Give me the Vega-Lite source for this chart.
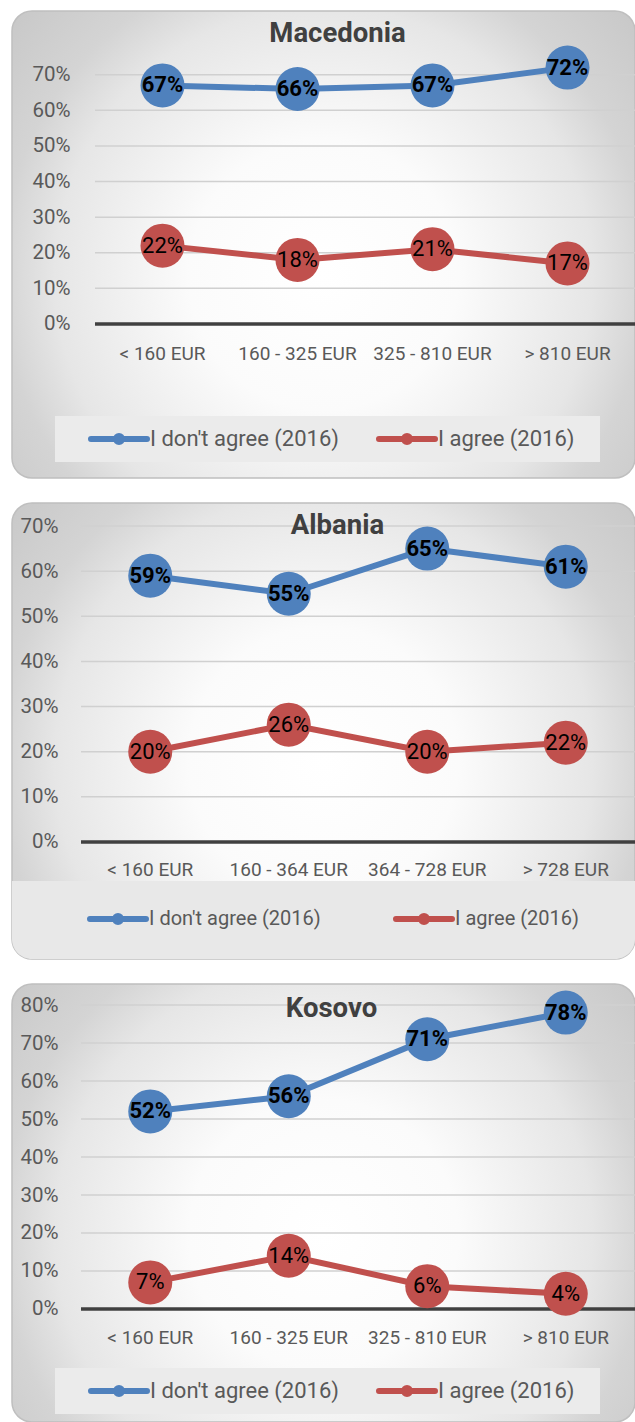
{
  "$schema": "https://vega.github.io/schema/vega-lite/v6.json",
  "padding": {"left": 11, "top": 10, "right": 0, "bottom": 0},
  "bounds": "flush",
  "spacing": 25,
  "datasets": {
    "d": [
      {"country": "Macedonia", "income": "< 160 EUR", "series": "I don't agree (2016)", "value": 0.67},
      {"country": "Macedonia", "income": "160 - 325 EUR", "series": "I don't agree (2016)", "value": 0.66},
      {"country": "Macedonia", "income": "325 - 810 EUR", "series": "I don't agree (2016)", "value": 0.67},
      {"country": "Macedonia", "income": "> 810 EUR", "series": "I don't agree (2016)", "value": 0.72},
      {"country": "Macedonia", "income": "< 160 EUR", "series": "I agree (2016)", "value": 0.22},
      {"country": "Macedonia", "income": "160 - 325 EUR", "series": "I agree (2016)", "value": 0.18},
      {"country": "Macedonia", "income": "325 - 810 EUR", "series": "I agree (2016)", "value": 0.21},
      {"country": "Macedonia", "income": "> 810 EUR", "series": "I agree (2016)", "value": 0.17},
      {"country": "Albania", "income": "< 160 EUR", "series": "I don't agree (2016)", "value": 0.59},
      {"country": "Albania", "income": "160 - 364 EUR", "series": "I don't agree (2016)", "value": 0.55},
      {"country": "Albania", "income": "364 - 728 EUR", "series": "I don't agree (2016)", "value": 0.65},
      {"country": "Albania", "income": "> 728 EUR", "series": "I don't agree (2016)", "value": 0.61},
      {"country": "Albania", "income": "< 160 EUR", "series": "I agree (2016)", "value": 0.20},
      {"country": "Albania", "income": "160 - 364 EUR", "series": "I agree (2016)", "value": 0.26},
      {"country": "Albania", "income": "364 - 728 EUR", "series": "I agree (2016)", "value": 0.20},
      {"country": "Albania", "income": "> 728 EUR", "series": "I agree (2016)", "value": 0.22},
      {"country": "Kosovo", "income": "< 160 EUR", "series": "I don't agree (2016)", "value": 0.52},
      {"country": "Kosovo", "income": "160 - 325 EUR", "series": "I don't agree (2016)", "value": 0.56},
      {"country": "Kosovo", "income": "325 - 810 EUR", "series": "I don't agree (2016)", "value": 0.71},
      {"country": "Kosovo", "income": "> 810 EUR", "series": "I don't agree (2016)", "value": 0.78},
      {"country": "Kosovo", "income": "< 160 EUR", "series": "I agree (2016)", "value": 0.07},
      {"country": "Kosovo", "income": "160 - 325 EUR", "series": "I agree (2016)", "value": 0.14},
      {"country": "Kosovo", "income": "325 - 810 EUR", "series": "I agree (2016)", "value": 0.06},
      {"country": "Kosovo", "income": "> 810 EUR", "series": "I agree (2016)", "value": 0.04}
    ],
    "grid7": [{"v": 0}, {"v": 0.1}, {"v": 0.2}, {"v": 0.3}, {"v": 0.4}, {"v": 0.5}, {"v": 0.6}, {"v": 0.7}],
    "grid8": [{"v": 0}, {"v": 0.1}, {"v": 0.2}, {"v": 0.3}, {"v": 0.4}, {"v": 0.5}, {"v": 0.6}, {"v": 0.7}, {"v": 0.8}]
  },
  "resolve": {"scale": {"color": "independent"}, "legend": {"color": "independent"}},
  "config": {
    "font": "Roboto",
    "view": {
      "fill": {"gradient": "radial", "x1": 0.5, "y1": 0.55, "r1": 0, "x2": 0.5, "y2": 0.55, "r2": 0.72,
        "stops": [{"offset": 0, "color": "#ffffff"}, {"offset": 0.3, "color": "#fbfbfb"}, {"offset": 0.6, "color": "#e6e6e6"}, {"offset": 0.72, "color": "#d4d4d4"}, {"offset": 1, "color": "#c2c2c2"}]},
      "stroke": "#bfbfbf", "strokeWidth": 1.5, "cornerRadius": 20
    },
    "axis": {"grid": false, "domain": false, "ticks": false, "labelFont": "Roboto", "labelColor": "#595959"},
    "legend": {"labelFont": "Roboto", "labelColor": "#595959"},
    "title": {"font": "Roboto", "fontSize": 27.5, "fontWeight": "bold", "color": "#404040"}
  },
  "vconcat": [
    {
      "width": 623, "height": 467,
      "title": {"text": "Macedonia", "frame": "group", "anchor": "middle", "offset": -58, "baseline": "alphabetic", "dx": 14},
      "layer": [
        {
          "data": {"name": "grid7"},
          "mark": {"type": "rule"},
          "encoding": {
            "y": {"field": "v", "type": "quantitative", "scale": {"domain": [-0.4326, 0.879], "nice": false, "zero": false},
              "axis": {"offset": -62, "labelPadding": 4, "values": [0, 0.1, 0.2, 0.3, 0.4, 0.5, 0.6, 0.7], "format": ".0%", "labelFontSize": 20.5, "title": null}},
            "x": {"datum": "< 160 EUR", "type": "nominal", "bandPosition": 0,
              "scale": {"type": "band", "domain": ["< 160 EUR", "160 - 325 EUR", "325 - 810 EUR", "> 810 EUR"], "paddingInner": 0, "paddingOuter": 0.3074, "align": 1},
              "axis": {"offset": -125, "labelPadding": 0, "labelBaseline": "middle", "labelFontSize": 19, "labelAngle": 0, "labelOverlap": false, "title": null}},
            "x2": {"datum": "> 810 EUR", "bandPosition": 1},
            "color": {"condition": {"test": "datum.v === 0", "value": "#404040"}, "value": "#d0d0d0"},
            "strokeWidth": {"condition": {"test": "datum.v === 0", "value": 3.5}, "value": 1.5}
          }
        },
        {
          "data": {"name": "d"},
          "transform": [{"filter": "datum.country === 'Macedonia'"}],
          "mark": {"type": "line", "strokeWidth": 6},
          "encoding": {
            "x": {"field": "income", "type": "nominal", "bandPosition": 0.5, "sort": ["< 160 EUR", "160 - 325 EUR", "325 - 810 EUR", "> 810 EUR"]},
            "y": {"field": "value", "type": "quantitative"},
            "color": {"field": "series", "type": "nominal",
              "scale": {"domain": ["I don't agree (2016)", "I agree (2016)"], "range": ["#4f81bd", "#c0504d"]},
              "legend": {"orient": "none", "legendX": 43, "legendY": 405, "direction": "horizontal",
                "title": " ", "titleOrient": "right", "titlePadding": 16, "titleFontSize": 8,
                "fillColor": "#ebebeb", "padding": 10, "clipHeight": 26,
                "symbolType": "M-1,0L1,0M-0.11,0A0.11,0.11,0,1,1,0.11,0A0.11,0.11,0,1,1,-0.11,0",
                "symbolSize": 3136, "symbolStrokeWidth": 6, "symbolOffset": 23, "labelOffset": 0, "columnPadding": 14,
                "labelFontSize": 22, "labelLimit": 400,
                "encode": {"symbols": {"update": {
                  "fill": {"signal": "datum.value === 'I agree (2016)' ? '#c0504d' : '#4f81bd'"},
                  "stroke": {"signal": "datum.value === 'I agree (2016)' ? '#c0504d' : '#4f81bd'"},
                  "strokeCap": {"value": "round"}, "opacity": {"value": 1}}}}}}
          }
        },
        {
          "data": {"name": "d"},
          "transform": [{"filter": "datum.country === 'Macedonia'"}],
          "mark": {"type": "circle", "size": 1936, "opacity": 1},
          "encoding": {
            "x": {"field": "income", "type": "nominal", "bandPosition": 0.5},
            "y": {"field": "value", "type": "quantitative"},
            "color": {"field": "series", "type": "nominal"}
          }
        },
        {
          "data": {"name": "d"},
          "transform": [{"filter": "datum.country === 'Macedonia' && datum.series !== 'I agree (2016)'"}],
          "mark": {"type": "text", "fontSize": 22, "fontWeight": "bold", "color": "#000000", "baseline": "middle", "align": "center"},
          "encoding": {
            "x": {"field": "income", "type": "nominal", "bandPosition": 0.5},
            "y": {"field": "value", "type": "quantitative"},
            "text": {"field": "value", "type": "quantitative", "format": ".0%"}
          }
        },
        {
          "data": {"name": "d"},
          "transform": [{"filter": "datum.country === 'Macedonia' && datum.series === 'I agree (2016)'"}],
          "mark": {"type": "text", "fontSize": 22, "color": "#000000", "baseline": "middle", "align": "center"},
          "encoding": {
            "x": {"field": "income", "type": "nominal", "bandPosition": 0.5},
            "y": {"field": "value", "type": "quantitative"},
            "text": {"field": "value", "type": "quantitative", "format": ".0%"}
          }
        }
      ]
    },
    {
      "width": 623, "height": 456,
      "title": {"text": "Albania", "frame": "group", "anchor": "middle", "offset": -58, "baseline": "alphabetic", "dx": 14},
      "layer": [
        {
          "data": {"values": [{}]},
          "mark": {"type": "rect", "color": "#e8e8e8", "cornerRadiusBottomLeft": 20, "cornerRadiusBottomRight": 20},
          "encoding": {
            "y": {"datum": -0.0864, "type": "quantitative", "scale": {"domain": [-0.2592, 0.751], "nice": false, "zero": false}},
            "y2": {"datum": -0.2592}
          }
        },
        {
          "data": {"name": "grid7"},
          "mark": {"type": "rule"},
          "encoding": {
            "y": {"field": "v", "type": "quantitative", "scale": {"domain": [-0.2592, 0.751], "nice": false, "zero": false},
              "axis": {"offset": -50, "labelPadding": 4, "values": [0, 0.1, 0.2, 0.3, 0.4, 0.5, 0.6, 0.7], "format": ".0%", "labelFontSize": 20.5, "title": null}},
            "x": {"datum": "< 160 EUR", "type": "nominal", "bandPosition": 0,
              "scale": {"type": "band", "domain": ["< 160 EUR", "160 - 364 EUR", "364 - 728 EUR", "> 728 EUR"], "paddingInner": 0, "paddingOuter": 0.2491, "align": 1},
              "axis": {"offset": -90, "labelPadding": 0, "labelBaseline": "middle", "labelFontSize": 19, "labelAngle": 0, "labelOverlap": false, "title": null}},
            "x2": {"datum": "> 728 EUR", "bandPosition": 1},
            "color": {"condition": {"test": "datum.v === 0", "value": "#404040"}, "value": "#d0d0d0"},
            "strokeWidth": {"condition": {"test": "datum.v === 0", "value": 3.5}, "value": 1.5}
          }
        },
        {
          "data": {"name": "d"},
          "transform": [{"filter": "datum.country === 'Albania'"}],
          "mark": {"type": "line", "strokeWidth": 6},
          "encoding": {
            "x": {"field": "income", "type": "nominal", "bandPosition": 0.5, "sort": ["< 160 EUR", "160 - 364 EUR", "364 - 728 EUR", "> 728 EUR"]},
            "y": {"field": "value", "type": "quantitative"},
            "color": {"field": "series", "type": "nominal",
              "scale": {"domain": ["I don't agree (2016)", "I agree (2016)"], "range": ["#4f81bd", "#c0504d"]},
              "legend": {"orient": "none", "legendX": 42, "legendY": 393, "direction": "horizontal", "title": null,
                "padding": 10, "clipHeight": 26,
                "symbolType": "M-1,0L1,0M-0.11,0A0.11,0.11,0,1,1,0.11,0A0.11,0.11,0,1,1,-0.11,0",
                "symbolSize": 3136, "symbolStrokeWidth": 6, "symbolOffset": 23, "labelOffset": 0, "columnPadding": 49,
                "labelFontSize": 20, "labelLimit": 400,
                "encode": {"symbols": {"update": {
                  "fill": {"signal": "datum.value === 'I agree (2016)' ? '#c0504d' : '#4f81bd'"},
                  "stroke": {"signal": "datum.value === 'I agree (2016)' ? '#c0504d' : '#4f81bd'"},
                  "strokeCap": {"value": "round"}, "opacity": {"value": 1}}}}}}
          }
        },
        {
          "data": {"name": "d"},
          "transform": [{"filter": "datum.country === 'Albania'"}],
          "mark": {"type": "circle", "size": 1936, "opacity": 1},
          "encoding": {
            "x": {"field": "income", "type": "nominal", "bandPosition": 0.5},
            "y": {"field": "value", "type": "quantitative"},
            "color": {"field": "series", "type": "nominal"}
          }
        },
        {
          "data": {"name": "d"},
          "transform": [{"filter": "datum.country === 'Albania' && datum.series !== 'I agree (2016)'"}],
          "mark": {"type": "text", "fontSize": 22, "fontWeight": "bold", "color": "#000000", "baseline": "middle", "align": "center"},
          "encoding": {
            "x": {"field": "income", "type": "nominal", "bandPosition": 0.5},
            "y": {"field": "value", "type": "quantitative"},
            "text": {"field": "value", "type": "quantitative", "format": ".0%"}
          }
        },
        {
          "data": {"name": "d"},
          "transform": [{"filter": "datum.country === 'Albania' && datum.series === 'I agree (2016)'"}],
          "mark": {"type": "text", "fontSize": 22, "color": "#000000", "baseline": "middle", "align": "center"},
          "encoding": {
            "x": {"field": "income", "type": "nominal", "bandPosition": 0.5},
            "y": {"field": "value", "type": "quantitative"},
            "text": {"field": "value", "type": "quantitative", "format": ".0%"}
          }
        }
      ]
    },
    {
      "width": 623, "height": 438,
      "title": {"text": "Kosovo", "frame": "group", "anchor": "middle", "offset": -60, "baseline": "alphabetic", "dx": 8},
      "layer": [
        {
          "data": {"name": "grid8"},
          "mark": {"type": "rule"},
          "encoding": {
            "y": {"field": "v", "type": "quantitative", "scale": {"domain": [-0.2974, 0.8553], "nice": false, "zero": false},
              "axis": {"offset": -50, "labelPadding": 4, "values": [0, 0.1, 0.2, 0.3, 0.4, 0.5, 0.6, 0.7, 0.8], "format": ".0%", "labelFontSize": 20.5, "title": null}},
            "x": {"datum": "< 160 EUR", "type": "nominal", "bandPosition": 0,
              "scale": {"type": "band", "domain": ["< 160 EUR", "160 - 325 EUR", "325 - 810 EUR", "> 810 EUR"], "paddingInner": 0, "paddingOuter": 0.2491, "align": 1},
              "axis": {"offset": -85, "labelPadding": 0, "labelBaseline": "middle", "labelFontSize": 19, "labelAngle": 0, "labelOverlap": false, "title": null}},
            "x2": {"datum": "> 810 EUR", "bandPosition": 1},
            "color": {"condition": {"test": "datum.v === 0", "value": "#404040"}, "value": "#d0d0d0"},
            "strokeWidth": {"condition": {"test": "datum.v === 0", "value": 3.5}, "value": 1.5}
          }
        },
        {
          "data": {"name": "d"},
          "transform": [{"filter": "datum.country === 'Kosovo'"}],
          "mark": {"type": "line", "strokeWidth": 6},
          "encoding": {
            "x": {"field": "income", "type": "nominal", "bandPosition": 0.5, "sort": ["< 160 EUR", "160 - 325 EUR", "325 - 810 EUR", "> 810 EUR"]},
            "y": {"field": "value", "type": "quantitative"},
            "color": {"field": "series", "type": "nominal",
              "scale": {"domain": ["I don't agree (2016)", "I agree (2016)"], "range": ["#4f81bd", "#c0504d"]},
              "legend": {"orient": "none", "legendX": 43, "legendY": 384, "direction": "horizontal",
                "title": " ", "titleOrient": "right", "titlePadding": 16, "titleFontSize": 8,
                "fillColor": "#ebebeb", "padding": 10, "clipHeight": 26,
                "symbolType": "M-1,0L1,0M-0.11,0A0.11,0.11,0,1,1,0.11,0A0.11,0.11,0,1,1,-0.11,0",
                "symbolSize": 3136, "symbolStrokeWidth": 6, "symbolOffset": 23, "labelOffset": 0, "columnPadding": 14,
                "labelFontSize": 22, "labelLimit": 400,
                "encode": {"symbols": {"update": {
                  "fill": {"signal": "datum.value === 'I agree (2016)' ? '#c0504d' : '#4f81bd'"},
                  "stroke": {"signal": "datum.value === 'I agree (2016)' ? '#c0504d' : '#4f81bd'"},
                  "strokeCap": {"value": "round"}, "opacity": {"value": 1}}}}}}
          }
        },
        {
          "data": {"name": "d"},
          "transform": [{"filter": "datum.country === 'Kosovo'"}],
          "mark": {"type": "circle", "size": 1936, "opacity": 1},
          "encoding": {
            "x": {"field": "income", "type": "nominal", "bandPosition": 0.5},
            "y": {"field": "value", "type": "quantitative"},
            "color": {"field": "series", "type": "nominal"}
          }
        },
        {
          "data": {"name": "d"},
          "transform": [{"filter": "datum.country === 'Kosovo' && datum.series !== 'I agree (2016)'"}],
          "mark": {"type": "text", "fontSize": 22, "fontWeight": "bold", "color": "#000000", "baseline": "middle", "align": "center"},
          "encoding": {
            "x": {"field": "income", "type": "nominal", "bandPosition": 0.5},
            "y": {"field": "value", "type": "quantitative"},
            "text": {"field": "value", "type": "quantitative", "format": ".0%"}
          }
        },
        {
          "data": {"name": "d"},
          "transform": [{"filter": "datum.country === 'Kosovo' && datum.series === 'I agree (2016)'"}],
          "mark": {"type": "text", "fontSize": 22, "color": "#000000", "baseline": "middle", "align": "center"},
          "encoding": {
            "x": {"field": "income", "type": "nominal", "bandPosition": 0.5},
            "y": {"field": "value", "type": "quantitative"},
            "text": {"field": "value", "type": "quantitative", "format": ".0%"}
          }
        }
      ]
    }
  ]
}
